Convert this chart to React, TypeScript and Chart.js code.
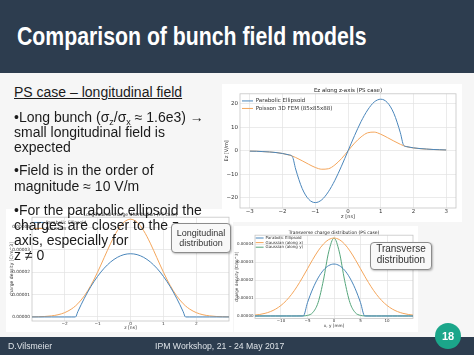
import React, { useEffect, useRef } from "react";
import { Chart, registerables } from "chart.js";

Chart.register(...registerables);

// ---------- Ez along z-axis (PS case) ----------
const ezZ = [-3, -2.8, -2.6, -2.4, -2.2, -2, -1.8, -1.7, -1.6, -1.4, -1.2, -1, -0.8, -0.6, -0.4, -0.2, 0, 0.2, 0.4, 0.6, 0.8, 1, 1.2, 1.4, 1.6, 1.7, 1.8, 2, 2.2, 2.4, 2.6, 2.8, 3];
const ezParabolic = [-0.1, -0.15, -0.3, -0.45, -0.7, -1.1, -1.7, -2.4, -7.7, -16.0, -20.6, -22.0, -20.8, -17.4, -12.5, -6.5, 0, 6.5, 12.5, 17.4, 20.8, 22.0, 20.6, 16.0, 7.7, 2.4, 1.8, 1.3, 1.0, 0.8, 0.6, 0.5, 0.4];
const ezPoisson = [-0.1, -0.15, -0.3, -0.45, -0.7, -1.1, -1.75, -2.2, -2.8, -4.2, -5.7, -7.05, -7.8, -7.6, -5.95, -3.3, 0, 3.3, 5.95, 7.7, 8.0, 7.1, 5.7, 4.2, 2.8, 2.2, 1.75, 1.25, 0.95, 0.75, 0.6, 0.5, 0.4];
const ezXTicks = [-3, -2, -1, 0, 1, 2, 3];
const ezYTicks = [-20, -10, 0, 10, 20];

// ---------- Longitudinal charge distribution (PS case) ----------
const lonZ = [-3, -2.8, -2.6, -2.4, -2.2, -2, -1.8, -1.67, -1.6, -1.4, -1.2, -1, -0.8, -0.6, -0.4, -0.2, 0, 0.2, 0.4, 0.6, 0.8, 1, 1.2, 1.4, 1.6, 1.67, 1.8, 2, 2.2, 2.4, 2.6, 2.8, 3];
const lonParabolic = [0, 0, 0, 0, 0, 0, 0, 0, 0.232e-5, 0.838e-5, 1.364e-5, 1.809e-5, 2.173e-5, 2.456e-5, 2.658e-5, 2.78e-5, 2.82e-5, 2.78e-5, 2.658e-5, 2.456e-5, 2.173e-5, 1.809e-5, 1.364e-5, 0.838e-5, 0.232e-5, 0, 0, 0, 0, 0, 0, 0, 0];
const lonGaussian = [0.004e-5, 0.0095e-5, 0.022e-5, 0.048e-5, 0.099e-5, 0.191e-5, 0.347e-5, 0.493e-5, 0.59e-5, 0.943e-5, 1.416e-5, 1.996e-5, 2.645e-5, 3.291e-5, 3.848e-5, 4.226e-5, 4.36e-5, 4.226e-5, 3.848e-5, 3.291e-5, 2.645e-5, 1.996e-5, 1.416e-5, 0.943e-5, 0.59e-5, 0.493e-5, 0.347e-5, 0.191e-5, 0.099e-5, 0.048e-5, 0.022e-5, 0.0095e-5, 0.004e-5];
const lonXTicks = [-2, -1, 0, 1, 2];
const lonYTicks = [0, 0.00001, 0.00002, 0.00003, 0.00004];

// ---------- Transverse charge distribution (PS case) ----------
const trX = [-15, -14, -13, -12, -11, -10, -9, -8, -7, -6, -5.8, -5, -4, -3, -2, -1, 0, 1, 2, 3, 4, 5, 5.8, 6, 7, 8, 9, 10, 11, 12, 13, 14, 15];
const trParabolic = [0, 0, 0, 0, 0, 0, 0, 0, 0, 0, 0, 0.745e-5, 1.521e-5, 2.124e-5, 2.555e-5, 2.814e-5, 2.9e-5, 2.814e-5, 2.555e-5, 2.124e-5, 1.521e-5, 0.745e-5, 0, 0, 0, 0, 0, 0, 0, 0, 0, 0, 0];
const trGaussX = [0.048e-5, 0.086e-5, 0.148e-5, 0.244e-5, 0.387e-5, 0.589e-5, 0.861e-5, 1.209e-5, 1.633e-5, 2.118e-5, 2.22e-5, 2.638e-5, 3.159e-5, 3.634e-5, 4.016e-5, 4.264e-5, 4.35e-5, 4.264e-5, 4.016e-5, 3.634e-5, 3.159e-5, 2.638e-5, 2.22e-5, 2.118e-5, 1.633e-5, 1.209e-5, 0.861e-5, 0.589e-5, 0.387e-5, 0.244e-5, 0.148e-5, 0.086e-5, 0.048e-5];
const trGaussY = [0, 0, 0, 0, 0, 0, 0, 0, 0, 0.004e-5, 0.006e-5, 0.033e-5, 0.191e-5, 0.75e-5, 1.991e-5, 3.578e-5, 4.35e-5, 3.578e-5, 1.991e-5, 0.75e-5, 0.191e-5, 0.033e-5, 0.006e-5, 0.004e-5, 0, 0, 0, 0, 0, 0, 0, 0, 0];
const trXTicks = [-10, -5, 0, 5, 10];
const trYTicks = [0, 0.00001, 0.00002, 0.00003, 0.00004];

// ---------- styles ----------
const BLUE = "#4a86bb";
const ORANGE = "#f4a65c";
const GREEN = "#55a57b";
const GRID = "#e3e3e3";
const FRAME = "#c6c6c6";
const MPL_FONT = "'DejaVu Sans', sans-serif";
const TEXT_FONT = "'Liberation Sans', Arial, sans-serif";
const NAVY = "#2d3d4f";
const BODY_BG = "#f6f6f6";

const framePlugin = {
  id: "frame",
  beforeDatasetsDraw(chart: any) {
    const { ctx, chartArea: a } = chart;
    ctx.save();
    ctx.strokeStyle = FRAME;
    ctx.lineWidth = 0.8;
    ctx.strokeRect(a.left, a.top, a.right - a.left, a.bottom - a.top);
    ctx.restore();
  },
};

const minus = (s: string) => s.replace("-", "\u2212");

interface Spec {
  xs: number[];
  series: { label: string; data: number[]; color: string }[];
  xRange: [number, number];
  yRange: [number, number];
  xTicks: number[];
  yTicks: number[];
  yDecimals: number;
  title: string;
  xTitle: string;
  yTitle: string;
  tickSize: number;
  titleSize: number;
  axisTitleSize: number;
  legendSize: number;
  legendPad: number;
  legendOffset: number;
  legendBox: number;
  yAxisWidth: number;
  xAxisHeight: number;
  rightPad: number;
  titlePadTop: number;
  xTitlePadBottom: number;
  yTitlePadTop: number;
  xTickPad: number;
  yTickPad: number;
}

function makeConfig(s: Spec): any {
  return {
    type: "line",
    data: {
      datasets: s.series.map((ser) => ({
        label: ser.label,
        data: s.xs.map((x, i) => ({ x, y: ser.data[i] })),
        borderColor: ser.color,
        backgroundColor: ser.color,
        borderWidth: 1,
        pointRadius: 0,
        cubicInterpolationMode: "monotone",
        fill: false,
      })),
    },
    options: {
      responsive: false,
      animation: false,
      devicePixelRatio: 1,
      layout: { padding: { left: 0, right: s.rightPad, top: 0, bottom: 0 } },
      plugins: {
        title: {
          display: true,
          text: s.title,
          fullSize: false,
          color: "#222",
          font: { family: MPL_FONT, size: s.titleSize, weight: "normal" },
          padding: { top: s.titlePadTop, bottom: 0 },
        },
        legend: {
          position: "chartArea",
          align: "start",
          title: { display: true, text: "", font: { size: 1 }, padding: { top: s.legendOffset, bottom: 0 } },
          labels: {
            usePointStyle: true,
            pointStyle: "line",
            pointStyleWidth: s.legendBox,
            boxHeight: s.legendSize,
            font: { family: MPL_FONT, size: s.legendSize },
            color: "#333",
            padding: s.legendPad,
          },
        },
        tooltip: { enabled: false },
      },
      scales: {
        x: {
          type: "linear",
          min: s.xRange[0],
          max: s.xRange[1],
          afterBuildTicks: (sc: any) => {
            sc.ticks = s.xTicks.map((v) => ({ value: v }));
          },
          afterFit: (sc: any) => {
            sc.height = s.xAxisHeight;
          },
          grid: { color: GRID, lineWidth: 0.7, drawTicks: false },
          border: { display: false },
          ticks: {
            color: "#333",
            font: { family: MPL_FONT, size: s.tickSize },
            padding: s.xTickPad,
            maxRotation: 0,
            autoSkip: false,
            callback: (v: any) => minus(String(v)),
          },
          title: {
            display: true,
            text: s.xTitle,
            color: "#333",
            font: { family: MPL_FONT, size: s.axisTitleSize },
            padding: { top: 0, bottom: s.xTitlePadBottom },
          },
        },
        y: {
          type: "linear",
          min: s.yRange[0],
          max: s.yRange[1],
          afterBuildTicks: (sc: any) => {
            sc.ticks = s.yTicks.map((v) => ({ value: v }));
          },
          afterFit: (sc: any) => {
            sc.width = s.yAxisWidth;
          },
          grid: { color: GRID, lineWidth: 0.7, drawTicks: false },
          border: { display: false },
          ticks: {
            color: "#333",
            font: { family: MPL_FONT, size: s.tickSize },
            padding: s.yTickPad,
            autoSkip: false,
            callback: (v: any) => (s.yDecimals > 0 ? Number(v).toFixed(s.yDecimals) : minus(String(v))),
          },
          title: {
            display: true,
            text: s.yTitle,
            color: "#333",
            font: { family: MPL_FONT, size: s.axisTitleSize },
            padding: { top: s.yTitlePadTop, bottom: 0 },
          },
        },
      },
    },
    plugins: [framePlugin],
  };
}

const ezSpec: Spec = {
  xs: ezZ,
  series: [
    { label: "Parabolic Ellipsoid", data: ezParabolic, color: BLUE },
    { label: "Poisson 3D FEM (85x85x88)", data: ezPoisson, color: ORANGE },
  ],
  xRange: [-3.3, 3.3],
  yRange: [-24.3, 24.3],
  xTicks: ezXTicks,
  yTicks: ezYTicks,
  yDecimals: 0,
  title: "Ez along z-axis (PS case)",
  xTitle: "z [ns]",
  yTitle: "Ez [V/m]",
  tickSize: 5.5,
  titleSize: 5.5,
  axisTitleSize: 5,
  legendSize: 5.5,
  legendPad: 2,
  legendOffset: 11,
  legendBox: 11,
  yAxisWidth: 18,
  xAxisHeight: 14,
  rightPad: 6,
  titlePadTop: 3.2,
  xTitlePadBottom: 2.2,
  yTitlePadTop: 2,
  xTickPad: 0.5,
  yTickPad: 2,
};

const lonSpec: Spec = {
  xs: lonZ,
  series: [
    { label: "Parabolic Ellipsoid", data: lonParabolic, color: BLUE },
    { label: "Gaussian", data: lonGaussian, color: ORANGE },
  ],
  xRange: [-2.99, 2.99],
  yRange: [-0.0000018, 0.0000445],
  xTicks: lonXTicks,
  yTicks: lonYTicks,
  yDecimals: 5,
  title: "Longitudinal charge distribution (PS case)",
  xTitle: "z [ns]",
  yTitle: "charge density [C/m^3]",
  tickSize: 4.3,
  titleSize: 4.5,
  axisTitleSize: 4.5,
  legendSize: 4.5,
  legendPad: 1.5,
  legendOffset: 8.5,
  legendBox: 10,
  yAxisWidth: 26,
  xAxisHeight: 11,
  rightPad: 4,
  titlePadTop: 2.8,
  xTitlePadBottom: 1.3,
  yTitlePadTop: 3.3,
  xTickPad: 0.5,
  yTickPad: 2,
};

const trSpec: Spec = {
  xs: trX,
  series: [
    { label: "Parabolic Ellipsoid", data: trParabolic, color: BLUE },
    { label: "Gaussian (along x)", data: trGaussX, color: ORANGE },
    { label: "Gaussian (along y)", data: trGaussY, color: GREEN },
  ],
  xRange: [-14.9, 14.9],
  yRange: [-0.0000014, 0.0000451],
  xTicks: trXTicks,
  yTicks: trYTicks,
  yDecimals: 5,
  title: "Transverse charge distribution (PS case)",
  xTitle: "x, y [mm]",
  yTitle: "charge density [C/m^3]",
  tickSize: 4,
  titleSize: 4.5,
  axisTitleSize: 4.2,
  legendSize: 4,
  legendPad: 0.6,
  legendOffset: 8.2,
  legendBox: 8,
  yAxisWidth: 21,
  xAxisHeight: 13.5,
  rightPad: 5,
  titlePadTop: 3.8,
  xTitlePadBottom: 3.3,
  yTitlePadTop: 0.6,
  xTickPad: 0.5,
  yTickPad: 1.5,
};

function ChartCanvas(props: { left: number; top: number; width: number; height: number; spec: Spec }) {
  const ref = useRef<HTMLCanvasElement>(null);
  useEffect(() => {
    const chart = new Chart(ref.current as HTMLCanvasElement, makeConfig(props.spec));
    return () => chart.destroy();
  }, []);
  return (
    <canvas
      ref={ref}
      width={props.width}
      height={props.height}
      style={{
        position: "absolute",
        left: props.left,
        top: props.top,
        width: props.width,
        height: props.height,
        background: "#ffffff",
      }}
    />
  );
}

function Line(props: { baseline: number; children: any; underline?: boolean }) {
  return (
    <div
      style={{
        position: "absolute",
        left: 14,
        top: props.baseline - 11.85,
        fontSize: 14,
        lineHeight: "14px",
        whiteSpace: "nowrap",
        color: "#1b1b1b",
        textDecoration: props.underline ? "underline" : "none",
      }}
    >
      {props.children}
    </div>
  );
}

const subStyle: any = { fontSize: 9, verticalAlign: "-3px", lineHeight: "0" };

export default function App() {
  useEffect(() => {
    document.body.style.margin = "0";
  }, []);
  return (
    <div
      style={{
        position: "fixed",
        left: 0,
        top: 0,
        width: 474,
        height: 355,
        overflow: "hidden",
        background: BODY_BG,
        fontFamily: TEXT_FONT,
      }}
    >
      {/* header */}
      <div style={{ position: "absolute", left: 0, top: 0, width: 474, height: 73, background: NAVY }} />
      <div
        style={{
          position: "absolute",
          left: 17,
          top: 24,
          fontSize: 25,
          lineHeight: "25px",
          fontWeight: "bold",
          color: "#ffffff",
          whiteSpace: "nowrap",
          transform: "scaleX(0.85)",
          transformOrigin: "left center",
        }}
      >
        Comparison of bunch field models
      </div>

      {/* charts */}
      <ChartCanvas left={222} top={84} width={240} height={138} spec={ezSpec} />
      <ChartCanvas left={6} top={209} width={227} height={123} spec={lonSpec} />
      <ChartCanvas left={234} top={226} width={184} height={106} spec={trSpec} />

      {/* body text */}
      <Line baseline={97} underline>
        PS case – longitudinal field
      </Line>
      <Line baseline={121.5}>
        •Long bunch (σ<span style={subStyle}>z</span>/σ<span style={subStyle}>x</span> ≈ 1.6e3) →
      </Line>
      <Line baseline={137}>small longitudinal field is</Line>
      <Line baseline={152}>expected</Line>
      <Line baseline={175}>•Field is in the order of</Line>
      <Line baseline={190.5}>magnitude ≈ 10 V/m</Line>
      <Line baseline={214.5}>•For the parabolic ellipsoid the</Line>
      <Line baseline={229.5}>charges are closer to the z-</Line>
      <Line baseline={244.5}>axis, especially for</Line>
      <Line baseline={260}>z ≠ 0</Line>

      {/* callouts */}
      <div
        style={{
          position: "absolute",
          left: 171,
          top: 223,
          width: 60,
          height: 30,
          boxSizing: "border-box",
          border: "1px solid #8c8c8c",
          borderRadius: 4,
          background: "#f8f8f8",
          boxShadow: "1px 1px 2px rgba(0,0,0,0.25)",
          textAlign: "center",
          fontSize: 9,
          lineHeight: "10px",
          color: "#333",
          paddingTop: 3.7,
        }}
      >
        Longitudinal
        <br />
        distribution
      </div>
      <div
        style={{
          position: "absolute",
          left: 370,
          top: 241.5,
          width: 62,
          height: 28.5,
          boxSizing: "border-box",
          border: "1px solid #8c8c8c",
          borderRadius: 4,
          background: "#f8f8f8",
          boxShadow: "1px 1px 2px rgba(0,0,0,0.25)",
          textAlign: "center",
          fontSize: 10,
          lineHeight: "11px",
          color: "#333",
          paddingTop: 0.5,
        }}
      >
        Transverse
        <br />
        distribution
      </div>

      {/* footer */}
      <div style={{ position: "absolute", left: 0, top: 337, width: 474, height: 18, background: NAVY }} />
      <div style={{ position: "absolute", left: 8, top: 342, fontSize: 8.7, lineHeight: "9px", color: "#dde2e7", whiteSpace: "nowrap" }}>
        D.Vilsmeier
      </div>
      <div style={{ position: "absolute", left: 155, top: 342, fontSize: 8.7, lineHeight: "9px", color: "#dde2e7", whiteSpace: "nowrap" }}>
        IPM Workshop, 21 - 24 May 2017
      </div>
      <div
        style={{
          position: "absolute",
          left: 435,
          top: 323,
          width: 26,
          height: 26,
          borderRadius: "50%",
          background: "#1ba68a",
          color: "#ffffff",
          fontWeight: "bold",
          fontSize: 11,
          display: "flex",
          alignItems: "center",
          justifyContent: "center",
        }}
      >
        18
      </div>
    </div>
  );
}
